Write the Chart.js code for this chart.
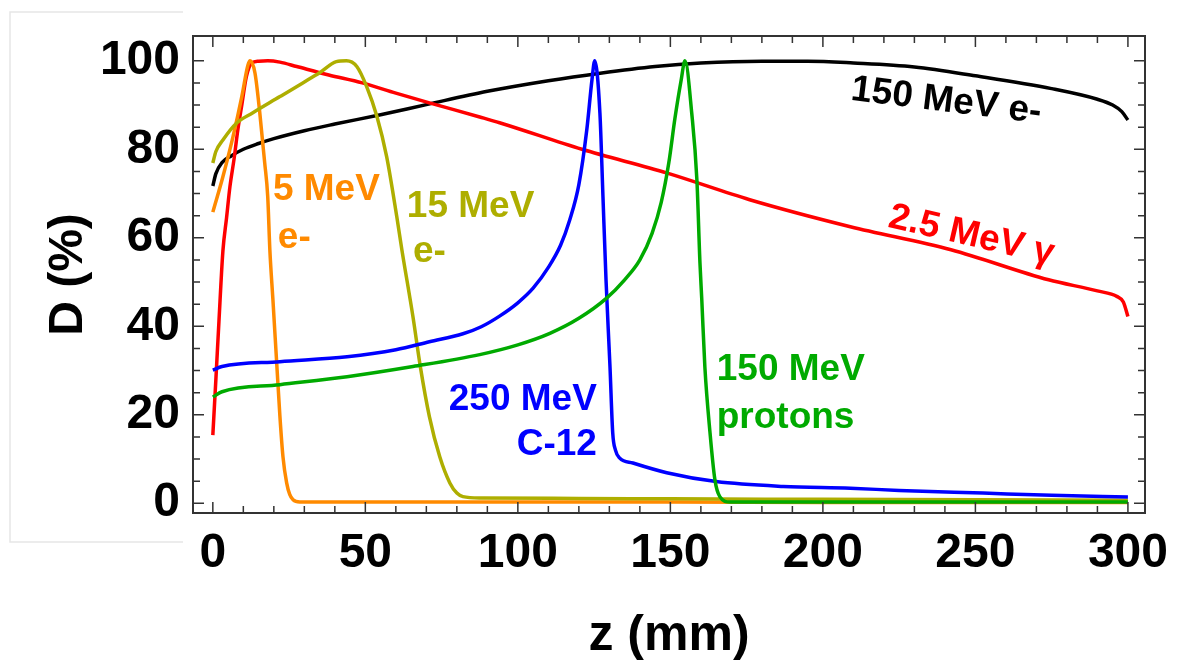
<!DOCTYPE html>
<html>
<head>
<meta charset="utf-8">
<script src="https://cdn.jsdelivr.net/npm/chart.js@4.4.1/dist/chart.umd.min.js"></script>
<style>
  body { margin: 0; background: #fff; }
  #wrap { width: 1178px; height: 666px; position: relative; }
</style>
</head>
<body>
<div id="wrap"><canvas id="doseChart"></canvas></div>
<script>
const ctx = document.getElementById('doseChart').getContext('2d');

// tick labels
const xTicks = [0, 50, 100, 150, 200, 250, 300];
const yTicks = [0, 20, 40, 60, 80, 100];

// depth z (mm) / dose D (%)
const e150X = [0, 1, 3, 6, 10, 15, 20, 30, 40, 55, 70, 90, 110, 127, 145, 160, 180, 195, 210, 230, 250, 275, 290, 295, 298, 300];
const e150Y = [71.7, 74.5, 77, 78.5, 80, 81.3, 82.4, 84.2, 85.7, 87.8, 90.1, 93.1, 95.5, 97.2, 98.7, 99.5, 99.9, 99.9, 99.5, 98.6, 96.6, 93.7, 91.3, 90, 88.5, 86.6];

const gammaX = [0, 1, 2, 3.3, 4.5, 5.6, 7, 8.2, 9.5, 11, 12.8, 15, 18, 22, 27.5, 38, 49, 60, 71, 87.5, 94, 121, 149, 176, 209, 242, 274, 290, 296.5, 298.5, 300];
const gammaY = [15.4, 28, 41, 57, 64.5, 71.5, 78, 84.4, 90, 96.4, 99.5, 99.9, 100, 99.7, 98.7, 96.8, 95, 92.7, 90.5, 87.3, 86, 80, 74.6, 68.6, 62.5, 57.3, 50.5, 48, 46.7, 45.5, 42.2];

const e5X = [0, 3.3, 6.6, 9.5, 11.5, 12.2, 13.8, 15.4, 17, 18, 18.7, 19.7, 21, 22, 23, 24.2, 25.2, 26.3, 28.5, 50, 100, 150, 200, 250, 300];
const e5Y = [65.8, 73.8, 82.8, 91.9, 99, 100, 97.3, 88.2, 77, 69.3, 57.2, 46, 31, 19.6, 10.5, 4.6, 2, 0.8, 0.3, 0.3, 0.3, 0.3, 0.2, 0.2, 0.2];

const e15X = [0, 1, 3.3, 7.9, 13, 22, 29.5, 35, 40.5, 43.8, 47.2, 50.4, 53.8, 57, 60.3, 62, 65.6, 68, 71, 74.4, 77.7, 80, 82, 88, 120, 150, 200, 250, 300];
const e15Y = [76.9, 79.5, 82.1, 86, 88.2, 91.9, 95, 97.3, 99.8, 100, 98.7, 94.2, 87.4, 78.3, 64.8, 57.2, 42.2, 31, 19.6, 10.5, 4.6, 2.3, 1.5, 1.2, 1.1, 1.0, 0.9, 0.8, 0.7];

const c12X = [0, 3, 22, 44, 60, 71, 82, 88, 94, 100, 105, 110, 114, 117, 120, 122.6, 124.3, 125.2, 126.9, 127.9, 128.9, 130.2, 131.1, 132, 133.4, 137.7, 148.8, 165, 187, 209, 225, 252.5, 275, 300];
const c12Y = [30.1, 30.9, 32, 33.1, 34.7, 36.5, 38.3, 39.9, 42.3, 45.3, 48.6, 53.3, 58.3, 64, 72, 84.4, 95.7, 100, 88.2, 69.3, 50.5, 30.9, 15.9, 12, 10.2, 9.1, 6.9, 4.9, 3.8, 3.4, 2.9, 2.3, 1.8, 1.4];

const protonX = [0, 3, 22, 44, 65.6, 87.5, 100, 110.5, 120, 129, 135, 140, 144, 147, 149.5, 151.5, 153.5, 154.8, 157, 158.7, 159.7, 160.3, 161.3, 163, 164.6, 166.2, 169.5, 200, 250, 300];
const protonY = [24, 25.2, 26.8, 28.6, 30.9, 33.6, 35.8, 38.4, 41.8, 46.3, 50.5, 55, 61, 68, 77, 87, 95.5, 100, 88.2, 73, 54.3, 46, 30.9, 15.9, 5.3, 1.5, 0.3, 0.3, 0.3, 0.3];

const toPoints = (xs, ys) => xs.map((x, i) => ({ x: x, y: ys[i] }));

const FONT = '"Liberation Sans", Arial, sans-serif';
const colors = {
  black: '#000000',
  red: '#ff0000',
  orange: '#ff8a00',
  olive: '#aeae00',
  blue: '#0000ff',
  green: '#00aa00'
};

// curve captions, placed in data units
const curveLabels = [
  { text: '5 MeV', x: 19.7, y: 68.6, color: colors.orange },
  { text: 'e-', x: 21.3, y: 57.7, color: colors.orange },
  { text: '15 MeV', x: 63.6, y: 64.7, color: colors.olive },
  { text: 'e-', x: 65.6, y: 54.5, color: colors.olive },
  { text: '250 MeV', x: 125.9, y: 21.1, color: colors.blue, align: 'right' },
  { text: 'C-12', x: 125.9, y: 10.9, color: colors.blue, align: 'right' },
  { text: '150 MeV', x: 165.2, y: 27.9, color: colors.green },
  { text: 'protons', x: 165.2, y: 17.0, color: colors.green },
  { text: '150 MeV e-', x: 208.9, y: 91.2, color: colors.black, rot: 7 },
  { text: '2.5 MeV \u03b3', x: 221, y: 62.5, color: colors.red, rot: 13 }
];

const lineSet = (label, xs, ys, color) => ({
  label: label,
  data: toPoints(xs, ys),
  borderColor: color,
  borderWidth: 3.5,
  pointRadius: 0,
  fill: false,
  cubicInterpolationMode: 'monotone'
});

// frame with inward ticks, plus the faint panel edge on the left
const framePlugin = {
  id: 'framePlugin',
  beforeDraw(chart) {
    const c = chart.ctx;
    c.save();
    c.strokeStyle = '#e6e6e6';
    c.lineWidth = 1.5;
    c.beginPath();
    c.moveTo(183, 12); c.lineTo(10, 12); c.lineTo(10, 542); c.lineTo(183, 542);
    c.stroke();
    c.restore();
  },
  afterDatasetsDraw(chart) {
    const c = chart.ctx;
    const a = chart.chartArea;
    const xs = chart.scales.x, ys = chart.scales.y;
    c.save();
    c.strokeStyle = '#333';
    c.lineWidth = 1.5;
    c.beginPath();
    for (let v = 0; v <= 300; v += 10) {
      const px = xs.getPixelForValue(v);
      const len = v % 50 === 0 ? 11 : 7;
      c.moveTo(px, a.bottom); c.lineTo(px, a.bottom - len);
      c.moveTo(px, a.top); c.lineTo(px, a.top + len);
    }
    for (let v = 0; v <= 100; v += 5) {
      const py = ys.getPixelForValue(v);
      const len = v % 20 === 0 ? 11 : 7;
      c.moveTo(a.left, py); c.lineTo(a.left + len, py);
      c.moveTo(a.right, py); c.lineTo(a.right - len, py);
    }
    c.stroke();
    c.lineWidth = 2;
    c.strokeRect(a.left, a.top, a.right - a.left, a.bottom - a.top);
    c.restore();
  },
  afterDraw(chart) {
    const c = chart.ctx;
    const xs = chart.scales.x, ys = chart.scales.y;
    c.save();
    c.font = 'bold 37px ' + FONT;
    c.textBaseline = 'alphabetic';
    curveLabels.forEach(l => {
      c.save();
      c.translate(xs.getPixelForValue(l.x), ys.getPixelForValue(l.y));
      if (l.rot) c.rotate(l.rot * Math.PI / 180);
      c.fillStyle = l.color;
      c.textAlign = l.align || 'left';
      c.fillText(l.text, 0, 0);
      c.restore();
    });
    c.restore();
  }
};

const config = {
  type: 'line',
  data: {
    datasets: [
      lineSet('150 MeV protons', protonX, protonY, colors.green),
      lineSet('250 MeV C-12', c12X, c12Y, colors.blue),
      lineSet('15 MeV e-', e15X, e15Y, colors.olive),
      lineSet('5 MeV e-', e5X, e5Y, colors.orange),
      lineSet('2.5 MeV gamma', gammaX, gammaY, colors.red),
      lineSet('150 MeV e-', e150X, e150Y, colors.black)
    ]
  },
  options: {
    responsive: true,
    maintainAspectRatio: false,
    animation: false,
    layout: { padding: { top: 36, right: 33, left: 0, bottom: 0 } },
    plugins: { legend: { display: false }, tooltip: { enabled: false } },
    scales: {
      x: {
        type: 'linear',
        min: -6.5,
        max: 305.6,
        afterBuildTicks: (s) => { s.ticks = xTicks.map(v => ({ value: v })); },
        afterFit: (s) => { s.height = 153; s.paddingLeft = 0; s.paddingRight = 0; },
        grid: { display: false, drawTicks: false },
        border: { display: false },
        ticks: {
          autoSkip: false,
          maxRotation: 0,
          padding: 12,
          color: '#000',
          font: { family: FONT, size: 48, weight: 'bold' }
        },
        title: {
          display: true,
          text: 'z (mm)',
          color: '#000',
          padding: { top: 0, bottom: 0 },
          font: { family: FONT, size: 50, weight: 'bold' }
        }
      },
      y: {
        type: 'linear',
        min: -2.2,
        max: 105.6,
        afterBuildTicks: (s) => { s.ticks = yTicks.map(v => ({ value: v })); },
        afterFit: (s) => { s.width = 193; s.paddingTop = 0; s.paddingBottom = 0; },
        grid: { display: false, drawTicks: false },
        border: { display: false },
        ticks: {
          autoSkip: false,
          padding: 13,
          color: '#000',
          font: { family: FONT, size: 48, weight: 'bold' }
        },
        title: {
          display: true,
          text: 'D (%)',
          color: '#000',
          padding: { top: 40, bottom: 0 },
          font: { family: FONT, size: 48, weight: 'bold' }
        }
      }
    }
  },
  plugins: [framePlugin]
};

const doseChart = new Chart(ctx, config);
</script>
</body>
</html>
